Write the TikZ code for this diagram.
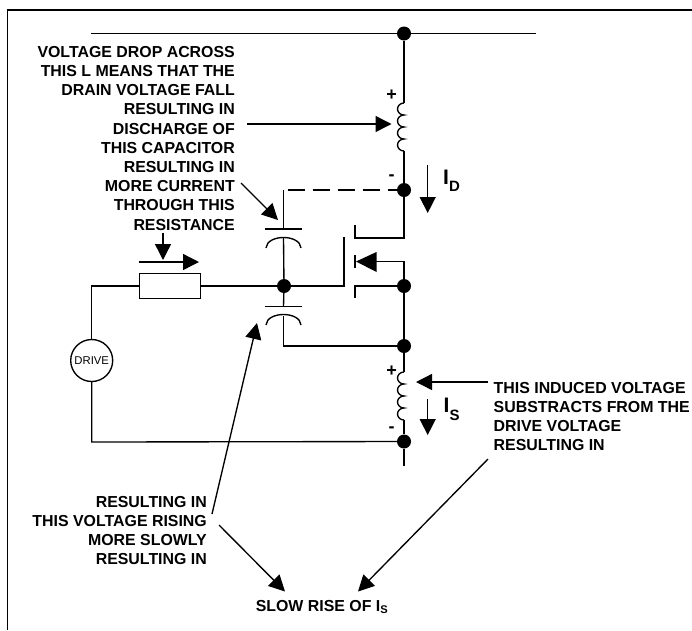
\documentclass[tikz,border=0pt]{standalone}
\usepackage{fontspec}
\setmainfont{Liberation Sans}
\usetikzlibrary{arrows.meta}
\tikzset{
  wire/.style={line width=1.35pt,black},
  pointer/.style={line width=1.35pt,black,-{Triangle[length=16pt,width=16pt]}},
  junction/.style={circle,fill=black,inner sep=0pt,minimum size=14pt},
  note/.style={font=\bfseries\fontsize{15.9pt}{19.2pt}\selectfont,inner sep=0pt,align=right,anchor=north east},
  notel/.style={note,align=left,anchor=north west},
  sign/.style={font=\bfseries\fontsize{18pt}{18pt}\selectfont,inner sep=0pt},
  curr/.style={font=\bfseries\fontsize{21pt}{21pt}\selectfont,inner sep=0pt,anchor=base west},
  coil/.style={line width=1.35pt,black},
}
\newcommand{\lowsub}[2]{\raisebox{#1}{\fontsize{15pt}{15pt}\selectfont #2}}
\begin{document}
\begin{tikzpicture}[x=1pt,y=-1pt]
\useasboundingbox (0,0) rectangle (692,630);
\fill[white] (0,0) rectangle (692,630);
% frame
\draw[line width=1.7pt] (7.5,630) -- (7.5,10) -- (692,10);
% junctions
\node[junction] (top) at (404,33.5) {};
\node[junction] (d) at (404,190) {};
\node[junction] (g) at (284,286) {};
\node[junction] (s) at (404,286) {};
\node[junction] (k) at (404,346) {};
\node[junction] (b) at (404,441.5) {};
% top rail
\coordinate (railL) at (91,33.5);
\coordinate (railR) at (536,33.5);
\draw[wire] (railL) -- (railR);
% upper inductor
\coordinate (l1a) at (404,103);
\coordinate (l1b) at (404,151);
\draw[wire] (top) -- (l1a);
\draw[coil] (l1a) arc[start angle=90,end angle=270,x radius=6.5pt,y radius=6pt]
  arc[start angle=90,end angle=270,x radius=6.5pt,y radius=6pt]
  arc[start angle=90,end angle=270,x radius=6.5pt,y radius=6pt]
  arc[start angle=90,end angle=270,x radius=6.5pt,y radius=6pt];
\draw[wire] (l1b) -- (d);
% drain
\coordinate (dc) at (355,238);
\coordinate (dt) at (355,225);
\draw[wire] (d) -- (404,238) -- (dc) -- (dt);
% dashed link and upper capacitor
\coordinate (c1w) at (283.5,190);
\coordinate (c1d) at (287.5,190);
\coordinate (c1p) at (283.5,229);
\coordinate (c1c) at (283.5,238);
\draw[wire,dash pattern=on 17pt off 8pt] (c1d) -- (d);
\draw[wire] (c1w) -- (c1p);
\draw[wire] (265,229) -- (302,229);
\draw[wire] (266,248) .. controls (267,234) and (300,234) .. (301,248);
\draw[wire] (c1c) -- (g);
% gate
\coordinate (gb) at (344,286);
\coordinate (gt) at (344,237);
\draw[wire] (g) -- (gb) -- (gt);
% channel pieces
\draw[wire] (355,255) -- (355,268);
\draw[wire] (355,298) -- (355,286) -- (s);
\coordinate (bulk) at (404,261.5);
\coordinate (tip) at (356,261.5);
\draw[wire] (s) -- (bulk) -- (376,261.5);
\fill (tip) -- (376.5,252) -- (376.5,272) -- cycle;
% lower capacitor
\coordinate (c2p) at (283.5,306.5);
\coordinate (c2c) at (283.5,316);
\coordinate (c2b) at (283.5,346);
\draw[wire] (g) -- (c2p);
\draw[wire] (265,306.5) -- (302,306.5);
\draw[wire] (266,325) .. controls (267,311) and (300,311) .. (301,325);
\draw[wire] (c2c) -- (c2b) -- (k);
\draw[wire] (s) -- (k);
% lower inductor
\coordinate (l2a) at (404,372);
\coordinate (l2b) at (404,420);
\coordinate (bot) at (404,466);
\draw[wire] (k) -- (l2a);
\draw[coil] (l2a) arc[start angle=90,end angle=270,x radius=6.5pt,y radius=6pt]
  arc[start angle=90,end angle=270,x radius=6.5pt,y radius=6pt]
  arc[start angle=90,end angle=270,x radius=6.5pt,y radius=6pt]
  arc[start angle=90,end angle=270,x radius=6.5pt,y radius=6pt];
\draw[wire] (l2b) -- (b) -- (bot);
% resistor and source
\node[draw,line width=1.35pt,minimum width=60.5pt,minimum height=24.5pt,inner sep=0pt,fill=white] (r) at (170,286) {};
\node[draw,circle,line width=1.35pt,minimum size=42pt,inner sep=0pt,font=\fontsize{11.3pt}{12pt}\selectfont] (drive) at (91.7,360.5) {DRIVE};
\coordinate (cl) at (91.7,286);
\coordinate (cb) at (91.7,442);
\draw[wire] (r.east) -- (g);
\draw[wire] (r.west) -- (cl) -- (drive.north);
\draw[wire] (drive.south) -- (cb) -- (b);
% pointers
\coordinate (p1a) at (247,124); \coordinate (p1b) at (391.5,124);
\draw[pointer] (p1a) -- (p1b);
\coordinate (p2a) at (241,183); \coordinate (p2b) at (278,220);
\draw[pointer] (p2a) -- (p2b);
\coordinate (p3a) at (163,232.5); \coordinate (p3b) at (163,260);
\coordinate (p4a) at (139,262); \coordinate (p4b) at (199,262);
\draw[pointer] (p4a) -- (p4b);
\draw[pointer] (p3a) -- (p3b);
\coordinate (p5a) at (212,514); \coordinate (p5b) at (257,323);
\draw[pointer] (p5a) -- (p5b);
\coordinate (p6a) at (219,525); \coordinate (p6b) at (285,591.5);
\draw[pointer] (p6a) -- (p6b);
\coordinate (p7a) at (488,459); \coordinate (p7b) at (358,591.5);
\draw[pointer] (p7a) -- (p7b);
\coordinate (p8a) at (488,382); \coordinate (p8b) at (416,382);
\draw[pointer] (p8a) -- (p8b);
\coordinate (p9a) at (427.7,165); \coordinate (p9b) at (427.7,213);
\draw[pointer] (p9a) -- (p9b);
\coordinate (p10a) at (427.7,399); \coordinate (p10b) at (427.7,435);
\draw[pointer] (p10a) -- (p10b);
% signs
\node[sign] (s1) at (391.7,95) {+};
\node[sign] (s2) at (391.7,178) {-};
\node[sign] (s3) at (391.7,371) {+};
\node[sign] (s4) at (391.7,430) {-};
% labels
\node[curr] (id) at (443,184.3) {I\lowsub{-6.7pt}{D}};
\node[curr] (is) at (443.5,412.7) {I\lowsub{-7.5pt}{S}};
\node[note] (t1) at (235,46) {VOLTAGE DROP ACROSS\\THIS L MEANS THAT THE\\DRAIN VOLTAGE FALL\\RESULTING IN\\DISCHARGE OF\\THIS CAPACITOR\\RESULTING IN\\MORE CURRENT\\THROUGH THIS\\RESISTANCE};
\node[notel] (t2) at (493.5,382) {THIS INDUCED VOLTAGE\\SUBSTRACTS FROM THE\\DRIVE VOLTAGE\\RESULTING IN};
\node[note] (t3) at (207,496) {RESULTING IN\\THIS VOLTAGE RISING\\MORE SLOWLY\\RESULTING IN};
\node[font=\bfseries\fontsize{15.9pt}{17pt}\selectfont,inner sep=0pt] (t4) at (322,607) {SLOW RISE OF I\textsubscript{S}};
\end{tikzpicture}
\end{document}
